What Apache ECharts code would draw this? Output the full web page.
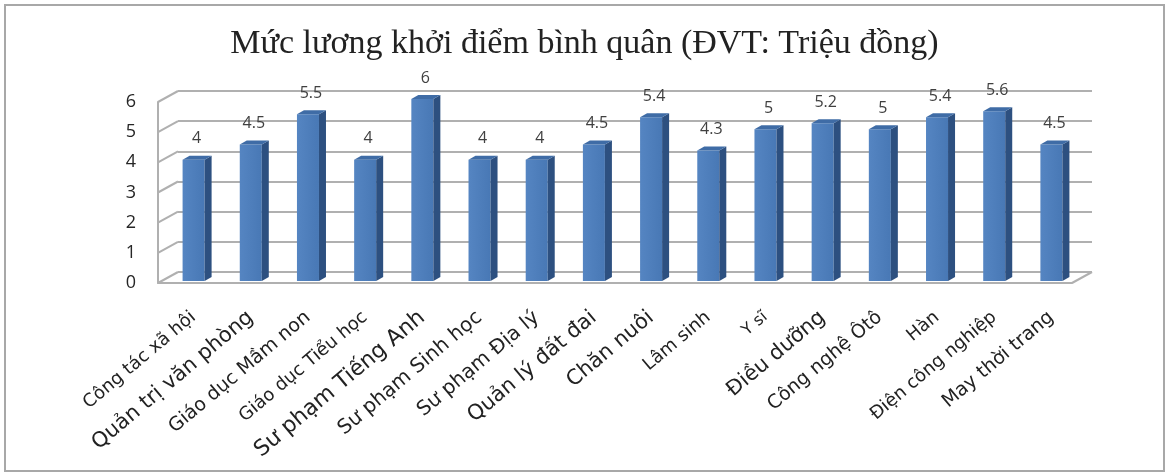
<!DOCTYPE html>
<html>
<head>
<meta charset="utf-8">
<script src="https://cdn.jsdelivr.net/npm/echarts@6/dist/echarts.min.js"></script>
<style>
  html, body { margin: 0; padding: 0; background: #fff; }
  #chart { width: 1169px; height: 476px; }
</style>
</head>
<body>
<div id="chart"></div>
<script>
var categories = [
  'Công tác xã hội', 'Quản trị văn phòng', 'Giáo dục Mầm non', 'Giáo dục Tiểu học',
  'Sư phạm Tiếng Anh', 'Sư phạm Sinh học', 'Sư phạm Địa lý', 'Quản lý đất đai',
  'Chăn nuôi', 'Lâm sinh', 'Y sĩ', 'Điều dưỡng',
  'Công nghệ Ôtô', 'Hàn', 'Điện công nghiệp', 'May thời trang'
]
var salaries = [4, 4.5, 5.5, 4, 6, 4, 4, 4.5, 5.4, 4.3, 5, 5.2, 5, 5.4, 5.6, 4.5]
var yTicks = [0, 1, 2, 3, 4, 5, 6]

// cỡ chữ nhãn trục ngang (bản gốc không đều nhau)
var labelSizes = [18, 21, 19, 18, 22, 20, 20, 21, 21, 18, 16, 21, 19, 18, 18, 19]

// độ sâu giả 3D
var DX = 20
var DY = -11
var wallColor = '#b0b0b0'

var chart = echarts.init(document.getElementById('chart'))

var option = {
  animation: false,
  backgroundColor: '#fff',
  title: {
    text: 'Mức lương khởi điểm bình quân (ĐVT: Triệu đồng)',
    left: 'center',
    top: 22,
    textStyle: { fontFamily: 'Liberation Serif', fontSize: 34, fontWeight: 'normal', color: '#222' }
  },
  graphic: [{
    type: 'rect',
    shape: { x: 5, y: 5, width: 1159, height: 466 },
    style: { fill: 'none', stroke: '#a8a8a8', lineWidth: 2 },
    z: -10
  }],
  grid: [
    { left: 165, right: 89, top: 99, bottom: 195 },  // mặt phẳng cột
    { left: 178, right: 77, top: 91, bottom: 204 },  // tường sau
    { left: 158, right: 97, top: 102, bottom: 193 }  // mặt trước
  ],
  xAxis: [
    {
      gridIndex: 0, type: 'category',
      data: categories.map(function (c, i) {
        return { value: c, textStyle: { fontSize: labelSizes[i] } }
      }),
      axisLine: { show: false }, axisTick: { show: false },
      axisLabel: {
        interval: 0, rotate: 40, margin: 34, hideOverlap: false,
        fontFamily: 'DejaVu Sans', fontSize: 18, color: '#222'
      }
    },
    { gridIndex: 1, type: 'value', min: 0, max: 1, show: false },
    {
      gridIndex: 2, type: 'value', min: 0, max: 1,
      axisLine: { show: true, onZero: false, lineStyle: { color: wallColor, width: 2 } },
      axisTick: { show: false }, axisLabel: { show: false }, splitLine: { show: false }
    }
  ],
  yAxis: [
    { gridIndex: 0, type: 'value', min: 0, max: 6, interval: 1, show: false },
    {
      gridIndex: 1, type: 'value', min: 0, max: 6, interval: 1,
      axisLine: { show: false }, axisTick: { show: false }, axisLabel: { show: false },
      splitLine: { show: true, lineStyle: { color: wallColor, width: 2 } }
    },
    {
      gridIndex: 2, type: 'value', min: 0, max: 6, interval: 1,
      axisLine: { show: true, lineStyle: { color: wallColor, width: 2 } },
      axisTick: { show: false }, splitLine: { show: false },
      axisLabel: { margin: 22, fontFamily: 'Open Sans', fontSize: 18, color: '#262626' }
    }
  ],
  series: [
    {
      // các đường chéo của tường trái và sàn
      type: 'custom',
      xAxisIndex: 2, yAxisIndex: 2,
      data: yTicks.map(function (t) { return [0, t] }),
      silent: true,
      z: 1,
      renderItem: function (params, api) {
        var p = api.coord([0, api.value(1)])
        var children = [{
          type: 'line',
          shape: { x1: p[0], y1: p[1], x2: p[0] + DX, y2: p[1] + DY },
          style: { stroke: wallColor, lineWidth: 2 }
        }]
        if (api.value(1) === 0) {
          var q = api.coord([1, 0])
          children.push({
            type: 'line',
            shape: { x1: q[0], y1: q[1], x2: q[0] + DX, y2: q[1] + DY },
            style: { stroke: wallColor, lineWidth: 2 }
          })
        }
        return { type: 'group', children: children }
      }
    },
    {
      type: 'custom',
      xAxisIndex: 0, yAxisIndex: 0,
      data: salaries.map(function (v, i) { return [i, v] }),
      z: 5,
      renderItem: function (params, api) {
        var v = api.value(1)
        var top = api.coord([api.value(0), v])
        var base = api.coord([api.value(0), 0])
        var w = api.size([1, 0])[0] * 0.385
        var d = 7, h = 4
        var l = top[0] - w / 2, r = top[0] + w / 2
        return {
          type: 'group',
          children: [
            {
              type: 'rect',
              shape: { x: l, y: top[1], width: w, height: base[1] - top[1] },
              style: {
                fill: new echarts.graphic.LinearGradient(0, 0, 1, 0, [
                  { offset: 0, color: '#5585c2' }, { offset: 1, color: '#4878b5' }
                ])
              }
            },
            {
              type: 'polygon',
              shape: { points: [[r, top[1]], [r + d, top[1] - h], [r + d, base[1] - h], [r, base[1]]] },
              style: { fill: '#2d5080' }
            },
            {
              type: 'polygon',
              shape: { points: [[l, top[1]], [l + d, top[1] - h], [r + d, top[1] - h], [r, top[1]]] },
              style: { fill: '#3f6ca6' }
            },
            {
              type: 'text',
              style: {
                text: String(v), x: top[0] + 3, y: top[1] - h - 9,
                align: 'center', verticalAlign: 'bottom',
                fontFamily: 'Open Sans', fontSize: 16, fill: '#404040'
              }
            }
          ]
        }
      }
    }
  ]
}

chart.setOption(option)
</script>
</body>
</html>
